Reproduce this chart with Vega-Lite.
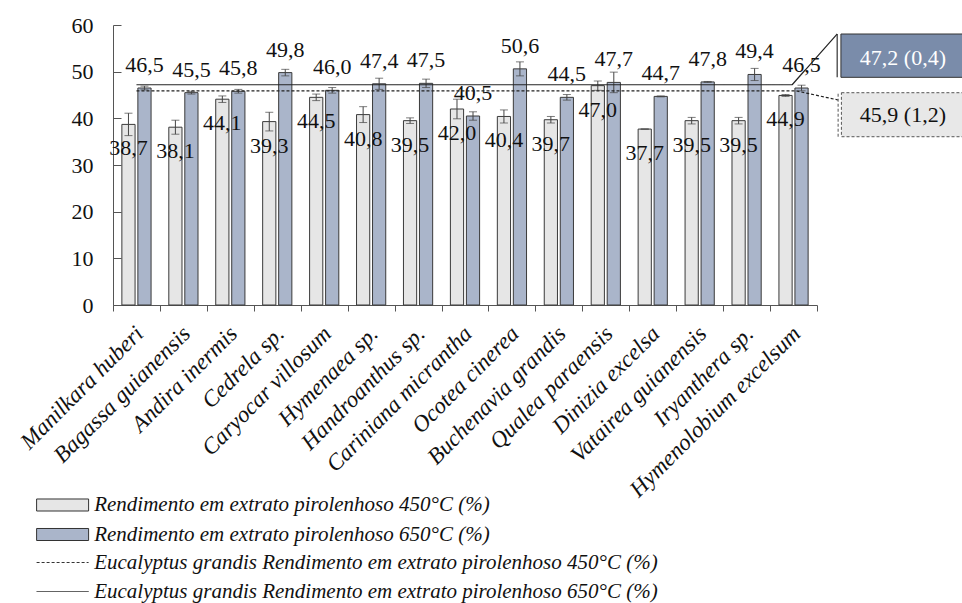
{
  "$schema": "https://vega.github.io/schema/vega-lite/v6.json",
  "width": 704,
  "height": 280,
  "autosize": {"type": "none"},
  "padding": {"left": 113, "top": 25, "right": 145, "bottom": 298},
  "config": {
    "font": "Times New Roman",
    "view": {"stroke": null},
    "axis": {"labelFont": "Times New Roman", "labelFontSize": 21, "labelColor": "#111", "domainColor": "#555", "tickColor": "#555", "grid": false},
    "legend": {"labelFont": "Times New Roman"},
    "text": {"font": "Times New Roman"}
  },
  "datasets": {
    "bars": [
      {"species": "Manilkara huberi", "temp": "450", "series": "Rendimento em extrato pirolenhoso 450°C (%)", "value": 38.7, "lo": 36.3, "hi": 41.1},
      {"species": "Manilkara huberi", "temp": "650", "series": "Rendimento em extrato pirolenhoso 650°C (%)", "value": 46.5, "lo": 46.1, "hi": 46.9},
      {"species": "Bagassa guianensis", "temp": "450", "series": "Rendimento em extrato pirolenhoso 450°C (%)", "value": 38.1, "lo": 36.6, "hi": 39.6},
      {"species": "Bagassa guianensis", "temp": "650", "series": "Rendimento em extrato pirolenhoso 650°C (%)", "value": 45.5, "lo": 45.2, "hi": 45.8},
      {"species": "Andira inermis", "temp": "450", "series": "Rendimento em extrato pirolenhoso 450°C (%)", "value": 44.1, "lo": 43.4, "hi": 44.8},
      {"species": "Andira inermis", "temp": "650", "series": "Rendimento em extrato pirolenhoso 650°C (%)", "value": 45.8, "lo": 45.4, "hi": 46.2},
      {"species": "Cedrela sp.", "temp": "450", "series": "Rendimento em extrato pirolenhoso 450°C (%)", "value": 39.3, "lo": 37.3, "hi": 41.3},
      {"species": "Cedrela sp.", "temp": "650", "series": "Rendimento em extrato pirolenhoso 650°C (%)", "value": 49.8, "lo": 49.1, "hi": 50.5},
      {"species": "Caryocar villosum", "temp": "450", "series": "Rendimento em extrato pirolenhoso 450°C (%)", "value": 44.5, "lo": 43.8, "hi": 45.2},
      {"species": "Caryocar villosum", "temp": "650", "series": "Rendimento em extrato pirolenhoso 650°C (%)", "value": 46.0, "lo": 45.4, "hi": 46.6},
      {"species": "Hymenaea sp.", "temp": "450", "series": "Rendimento em extrato pirolenhoso 450°C (%)", "value": 40.8, "lo": 39.1, "hi": 42.5},
      {"species": "Hymenaea sp.", "temp": "650", "series": "Rendimento em extrato pirolenhoso 650°C (%)", "value": 47.4, "lo": 46.2, "hi": 48.6},
      {"species": "Handroanthus sp.", "temp": "450", "series": "Rendimento em extrato pirolenhoso 450°C (%)", "value": 39.5, "lo": 38.9, "hi": 40.1},
      {"species": "Handroanthus sp.", "temp": "650", "series": "Rendimento em extrato pirolenhoso 650°C (%)", "value": 47.5, "lo": 46.6, "hi": 48.4},
      {"species": "Cariniana micrantha", "temp": "450", "series": "Rendimento em extrato pirolenhoso 450°C (%)", "value": 42.0, "lo": 39.9, "hi": 44.1},
      {"species": "Cariniana micrantha", "temp": "650", "series": "Rendimento em extrato pirolenhoso 650°C (%)", "value": 40.5, "lo": 39.6, "hi": 41.4},
      {"species": "Ocotea cinerea", "temp": "450", "series": "Rendimento em extrato pirolenhoso 450°C (%)", "value": 40.4, "lo": 39.0, "hi": 41.8},
      {"species": "Ocotea cinerea", "temp": "650", "series": "Rendimento em extrato pirolenhoso 650°C (%)", "value": 50.6, "lo": 49.1, "hi": 52.1},
      {"species": "Buchenavia grandis", "temp": "450", "series": "Rendimento em extrato pirolenhoso 450°C (%)", "value": 39.7, "lo": 39.0, "hi": 40.4},
      {"species": "Buchenavia grandis", "temp": "650", "series": "Rendimento em extrato pirolenhoso 650°C (%)", "value": 44.5, "lo": 43.9, "hi": 45.1},
      {"species": "Qualea paraensis", "temp": "450", "series": "Rendimento em extrato pirolenhoso 450°C (%)", "value": 47.0, "lo": 46.0, "hi": 48.0},
      {"species": "Qualea paraensis", "temp": "650", "series": "Rendimento em extrato pirolenhoso 650°C (%)", "value": 47.7, "lo": 45.5, "hi": 49.9},
      {"species": "Dinizia excelsa", "temp": "450", "series": "Rendimento em extrato pirolenhoso 450°C (%)", "value": 37.7, "lo": 37.7, "hi": 37.7},
      {"species": "Dinizia excelsa", "temp": "650", "series": "Rendimento em extrato pirolenhoso 650°C (%)", "value": 44.7, "lo": 44.6, "hi": 44.8},
      {"species": "Vatairea guianensis", "temp": "450", "series": "Rendimento em extrato pirolenhoso 450°C (%)", "value": 39.5, "lo": 38.8, "hi": 40.2},
      {"species": "Vatairea guianensis", "temp": "650", "series": "Rendimento em extrato pirolenhoso 650°C (%)", "value": 47.8, "lo": 47.7, "hi": 47.9},
      {"species": "Iryanthera sp.", "temp": "450", "series": "Rendimento em extrato pirolenhoso 450°C (%)", "value": 39.5, "lo": 38.8, "hi": 40.2},
      {"species": "Iryanthera sp.", "temp": "650", "series": "Rendimento em extrato pirolenhoso 650°C (%)", "value": 49.4, "lo": 48.1, "hi": 50.7},
      {"species": "Hymenolobium excelsum", "temp": "450", "series": "Rendimento em extrato pirolenhoso 450°C (%)", "value": 44.9, "lo": 44.7, "hi": 45.1},
      {"species": "Hymenolobium excelsum", "temp": "650", "series": "Rendimento em extrato pirolenhoso 650°C (%)", "value": 46.5, "lo": 45.9, "hi": 47.1}
    ],
    "ref": [
      {"s": "Eucalyptus grandis Rendimento em extrato pirolenhoso 450°C (%)", "k": 1, "q": 0.5, "v": 45.9},
      {"s": "Eucalyptus grandis Rendimento em extrato pirolenhoso 450°C (%)", "k": 2, "q": 14.55, "v": 45.9},
      {"s": "Eucalyptus grandis Rendimento em extrato pirolenhoso 450°C (%)", "k": 3, "q": 15.45, "v": 43.93},
      {"s": "Eucalyptus grandis Rendimento em extrato pirolenhoso 650°C (%)", "k": 1, "q": 0.5, "v": 47.2},
      {"s": "Eucalyptus grandis Rendimento em extrato pirolenhoso 650°C (%)", "k": 2, "q": 14.47, "v": 47.2},
      {"s": "Eucalyptus grandis Rendimento em extrato pirolenhoso 650°C (%)", "k": 3, "q": 15.43, "v": 58.07}
    ],
    "boxes": [
      {"box": "650", "x1": 15.51, "x2": 18.6, "ax": 15.43, "y1": 48.79, "y2": 58.07, "tx": 16.83, "ty": 52.9, "label": "47,2 (0,4)"},
      {"box": "450", "x1": 15.52, "x2": 18.6, "ax": 15.45, "y1": 36.06, "y2": 45.49, "tx": 16.83, "ty": 40.8, "label": "45,9 (1,2)"}
    ]
  },
  "layer": [
    {
      "data": {"name": "bars"},
      "transform": [{"calculate": "replace(format(datum.value, '.1f'), '.', ',')", "as": "lbl"}],
      "encoding": {
        "x": {
          "field": "species", "type": "nominal", "sort": null, "title": null,
          "scale": {"paddingInner": 0, "paddingOuter": 0},
          "axis": {"tickBand": "extent", "tickSize": 6, "labelAngle": -45, "labelFont": "Times New Roman", "labelFontStyle": "italic", "labelFontSize": 23, "labelLimit": 400, "labelPadding": 11, "labelOffset": -5}
        },
        "xOffset": {"field": "temp", "type": "nominal", "sort": null, "scale": {"paddingInner": 0.175, "paddingOuter": 0.554}}
      },
      "layer": [
        {
          "mark": {"type": "bar", "stroke": "#3a3a3a", "strokeWidth": 1},
          "encoding": {
            "y": {"field": "value", "type": "quantitative", "title": null, "scale": {"domain": [0, 60]},
                  "axis": {"values": [0, 10, 20, 30, 40, 50, 60], "tickSize": -8, "labelPadding": 28, "labelFont": "Times New Roman", "labelFontSize": 22}},
            "fill": {
              "field": "series", "type": "nominal",
              "scale": {"domain": ["Rendimento em extrato pirolenhoso 450°C (%)", "Rendimento em extrato pirolenhoso 650°C (%)"], "range": ["#e6e6e6", "#aab5ca"]},
              "legend": {"title": null, "orient": "none", "legendX": -61.4, "legendY": 469, "padding": 0,
                         "symbolType": "M-2.5,-0.577H2.5V0.577H-2.5Z", "symbolSize": 432.6, "symbolStrokeColor": "#333", "symbolStrokeWidth": 1, "symbolOpacity": 1,
                         "labelFont": "Times New Roman", "labelFontStyle": "italic", "labelFontSize": 21, "labelColor": "#111", "labelLimit": 1000, "labelOffset": 20.6, "rowPadding": 8.5}
            }
          }
        },
        {
          "mark": {"type": "rule", "color": "#444", "strokeWidth": 1},
          "encoding": {"y": {"field": "lo", "type": "quantitative", "title": null}, "y2": {"field": "hi"}}
        },
        {
          "mark": {"type": "tick", "color": "#444", "size": 8, "thickness": 1},
          "encoding": {"y": {"field": "hi", "type": "quantitative", "title": null}}
        },
        {
          "mark": {"type": "tick", "color": "#444", "size": 8, "thickness": 1},
          "encoding": {"y": {"field": "lo", "type": "quantitative", "title": null}}
        },
        {
          "transform": [{"filter": "datum.temp === '450'"}],
          "mark": {"type": "text", "font": "Times New Roman", "fontSize": 22, "color": "#111", "baseline": "alphabetic", "align": "center", "dy": 31},
          "encoding": {"y": {"field": "value", "type": "quantitative", "title": null}, "text": {"field": "lbl"}}
        },
        {
          "transform": [{"filter": "datum.temp === '650'"}],
          "mark": {"type": "text", "font": "Times New Roman", "fontSize": 22, "color": "#111", "baseline": "alphabetic", "align": "center", "dy": -16},
          "encoding": {"y": {"field": "value", "type": "quantitative", "title": null}, "text": {"field": "lbl"}}
        }
      ]
    },
    {
      "layer": [
        {
          "data": {"name": "ref"},
          "mark": {"type": "line", "color": "#222", "strokeWidth": 1.2},
          "encoding": {
            "x": {"field": "q", "type": "quantitative", "scale": {"domain": [0, 15], "nice": false, "zero": false}, "axis": null},
            "y": {"field": "v", "type": "quantitative", "title": null},
            "order": {"field": "k", "type": "quantitative"},
            "strokeDash": {
              "field": "s", "type": "nominal",
              "scale": {"domain": ["Eucalyptus grandis Rendimento em extrato pirolenhoso 450°C (%)", "Eucalyptus grandis Rendimento em extrato pirolenhoso 650°C (%)"], "range": [[3, 2], [1, 0]]},
              "legend": {"title": null, "orient": "none", "legendX": -61.4, "legendY": 526.5, "padding": 0,
                         "symbolType": "M-2.5,0H2.5", "symbolSize": 432.6, "symbolStrokeColor": "#333", "symbolStrokeWidth": 1,
                         "labelFont": "Times New Roman", "labelFontStyle": "italic", "labelFontSize": 21, "labelColor": "#111", "labelLimit": 1000, "labelOffset": 20.6, "rowPadding": 8}
            }
          }
        },
        {
          "data": {"name": "boxes"},
          "transform": [{"filter": "datum.box === '650'"}],
          "layer": [
            {"mark": {"type": "rect", "fill": "#7a8caa", "stroke": "#333", "strokeWidth": 1},
             "encoding": {"x": {"field": "x1", "type": "quantitative"}, "x2": {"field": "x2"}, "y": {"field": "y1", "type": "quantitative", "title": null}, "y2": {"field": "y2"}}},
            {"mark": {"type": "rule", "color": "#333", "strokeWidth": 1.2},
             "encoding": {"x": {"field": "ax", "type": "quantitative"}, "y": {"field": "y1", "type": "quantitative", "title": null}, "y2": {"field": "y2"}}},
            {"mark": {"type": "text", "font": "Times New Roman", "fontSize": 22, "color": "white", "baseline": "middle", "align": "center"},
             "encoding": {"x": {"field": "tx", "type": "quantitative"}, "y": {"field": "ty", "type": "quantitative", "title": null}, "text": {"field": "label"}}}
          ]
        },
        {
          "data": {"name": "boxes"},
          "transform": [{"filter": "datum.box === '450'"}],
          "layer": [
            {"mark": {"type": "rect", "fill": "#e8e8e8", "stroke": "#555", "strokeWidth": 1, "strokeDash": [3, 2]},
             "encoding": {"x": {"field": "x1", "type": "quantitative"}, "x2": {"field": "x2"}, "y": {"field": "y1", "type": "quantitative", "title": null}, "y2": {"field": "y2"}}},
            {"mark": {"type": "rule", "color": "#555", "strokeWidth": 1, "strokeDash": [3, 2]},
             "encoding": {"x": {"field": "ax", "type": "quantitative"}, "y": {"field": "y1", "type": "quantitative", "title": null}, "y2": {"field": "y2"}}},
            {"mark": {"type": "text", "font": "Times New Roman", "fontSize": 22, "color": "#111", "baseline": "middle", "align": "center"},
             "encoding": {"x": {"field": "tx", "type": "quantitative"}, "y": {"field": "ty", "type": "quantitative", "title": null}, "text": {"field": "label"}}}
          ]
        }
      ]
    }
  ],
  "resolve": {"scale": {"x": "independent"}}
}
